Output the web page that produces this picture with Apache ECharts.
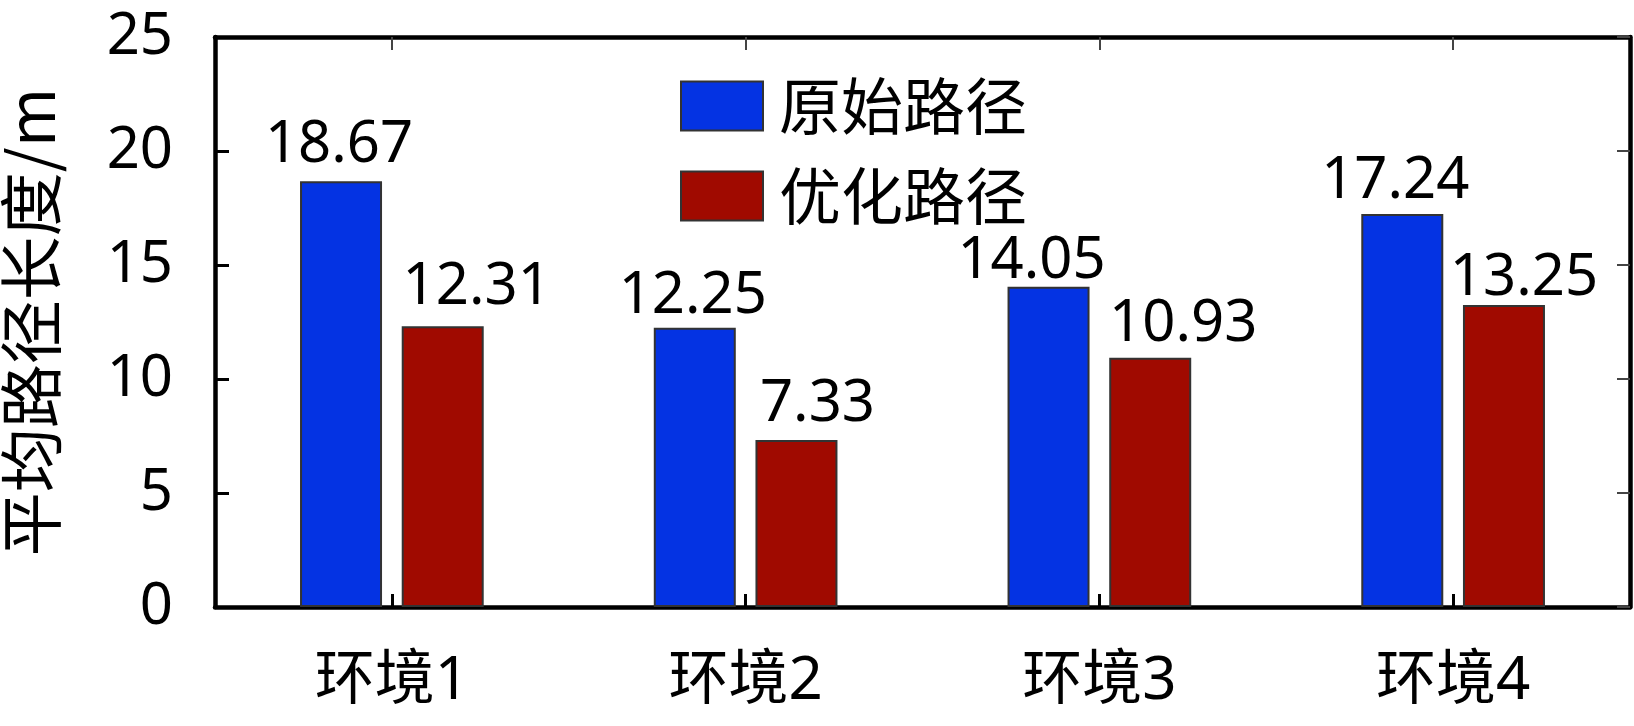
<!DOCTYPE html>
<html>
<head>
<meta charset="utf-8">
<script src="https://cdn.jsdelivr.net/npm/echarts@6/dist/echarts.min.js"></script>
<style>
html,body{margin:0;padding:0;background:#fff;}
#chart{width:1634px;height:726px;}
</style>
</head>
<body>
<div id="chart"></div>
<script>
const categories = ['环境1', '环境2', '环境3', '环境4'];
const seriesNames = ['原始路径', '优化路径'];
const originalPath = [18.67, 12.25, 14.05, 17.24];
const optimizedPath = [12.31, 7.33, 10.93, 13.25];
const yTicks = [0, 5, 10, 15, 20, 25];

// label nudges (pixels) as placed in the reference figure
const originalLabelNudge = [[-2, -7], [-2, -2], [-17, 4], [-7, -3]];
const optimizedLabelNudge = [[34, -10], [21, -6], [33, -4], [20, 3]];

const FONT = "'Noto Sans', 'Noto Sans CJK SC', sans-serif";
const chart = echarts.init(document.getElementById('chart'), null, {renderer: 'canvas'});

const baseLabel = {
  show: true,
  position: 'top',
  distance: 0,
  color: '#000',
  fontFamily: FONT,
  fontSize: 58,
  formatter: p => p.value.toFixed(2)
};

function withLabels(values, nudges) {
  return values.map((v, i) => ({value: v, label: {offset: nudges[i]}}));
}

chart.setOption({
  backgroundColor: '#fff',
  animation: false,
  grid: {left: 215, right: 4, top: 37, bottom: 119, containLabel: false, outerBoundsMode: 'none'},
  legend: {
    orient: 'vertical',
    left: 675,
    top: 70,
    itemWidth: 82,
    itemHeight: 49,
    itemGap: 28,
    icon: 'rect',
    data: seriesNames,
    textStyle: {fontFamily: "'Noto Sans CJK SC', sans-serif", fontSize: 62, color: '#000', lineHeight: 49, padding: [0, 0, 0, 11]}
  },
  xAxis: [{
    type: 'category',
    data: categories,
    position: 'bottom',
    axisLine: {show: true, lineStyle: {color: '#000', width: 4.5}},
    axisTick: {show: true, inside: true, alignWithLabel: true, length: 13, lineStyle: {color: '#000', width: 3}},
    axisLabel: {color: '#000', fontFamily: FONT, fontSize: 60, margin: 45},
    splitLine: {show: false}
  }, {
    type: 'category',
    data: categories,
    position: 'top',
    axisLine: {show: true, onZero: false, lineStyle: {color: '#000', width: 4.5}},
    axisTick: {show: true, inside: true, alignWithLabel: true, length: 13, lineStyle: {color: '#444', width: 2}},
    axisLabel: {show: false},
    splitLine: {show: false}
  }],
  yAxis: [{
    type: 'value',
    min: yTicks[0],
    max: yTicks[yTicks.length - 1],
    interval: 5,
    position: 'left',
    name: '平均路径长度/m',
    nameLocation: 'middle',
    nameGap: 152,
    nameTextStyle: {fontFamily: "'Noto Sans CJK SC', sans-serif", fontSize: 64, color: '#000'},
    axisLine: {show: true, lineStyle: {color: '#000', width: 4.5}},
    axisTick: {show: true, inside: true, length: 14, lineStyle: {color: '#000', width: 3}},
    axisLabel: {color: '#000', fontFamily: FONT, fontSize: 58, margin: 42},
    splitLine: {show: false}
  }, {
    type: 'value',
    min: yTicks[0],
    max: yTicks[yTicks.length - 1],
    interval: 5,
    position: 'right',
    axisLine: {show: true, onZero: false, lineStyle: {color: '#000', width: 4.5}},
    axisTick: {show: true, inside: true, length: 13, lineStyle: {color: '#444', width: 2}},
    axisLabel: {show: false},
    splitLine: {show: false}
  }],
  series: [{
    name: seriesNames[0],
    type: 'bar',
    data: withLabels(originalPath, originalLabelNudge),
    barWidth: 82,
    barGap: '24%',
    itemStyle: {color: '#0433e3', borderColor: '#333', borderWidth: 2},
    label: baseLabel
  }, {
    name: seriesNames[1],
    type: 'bar',
    data: withLabels(optimizedPath, optimizedLabelNudge),
    barWidth: 82,
    barGap: '24%',
    itemStyle: {color: '#a00a00', borderColor: '#333', borderWidth: 2},
    label: baseLabel
  }]
});
</script>
</body>
</html>
